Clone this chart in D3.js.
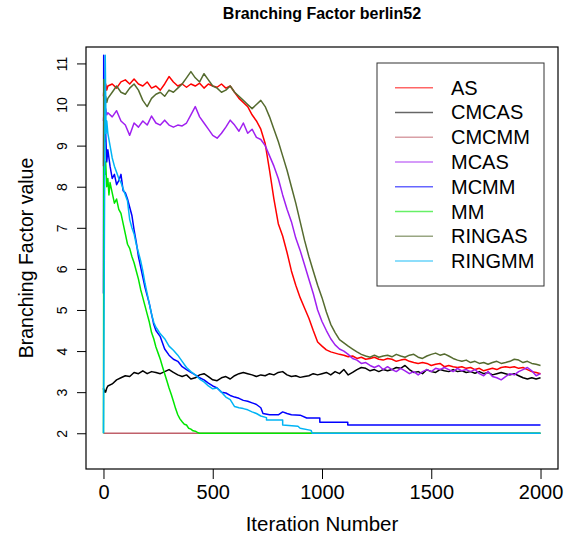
<!DOCTYPE html>
<html>
<head>
<meta charset="utf-8">
<script src="https://d3js.org/d3.v7.min.js"></script>
<style>
  body { margin: 0; background: #fff; }
  text { font-family: "Liberation Sans", Arial, sans-serif; fill: #000; }
</style>
</head>
<body>
<div id="chart"></div>
<script>
    // series names and colours (legend order = drawing order)
    var seriesNames = ["AS", "CMCAS", "CMCMM", "MCAS", "MCMM", "MM", "RINGAS", "RINGMM"];
    var seriesColors = ["#ff0000", "#000000", "#c0606a", "#a020f0", "#0000ff", "#00e600", "#556b2f", "#00b4f5"];

    // shared iteration grid for the noisy AS-type runs
    var gridIters = [0, 2, 5, 10, 15].concat(d3.range(20, 2001, 20));

    var asValues = [10.2, 10.4, 10.3, 10.5, 10.35,
      10.45, 10.5, 10.4, 10.55, 10.6, 10.5, 10.62, 10.5, 10.45, 10.55,
      10.4, 10.45, 10.35, 10.5, 10.68, 10.55, 10.45, 10.5, 10.42, 10.5,
      10.45, 10.52, 10.4, 10.5, 10.45, 10.42, 10.5, 10.4, 10.45, 10.3,
      10.15, 10.05, 9.95, 9.75, 9.6, 9.4, 9.05, 8.4, 7.7, 7.1,
      6.8, 6.4, 5.95, 5.6, 5.3, 5.05, 4.8, 4.5, 4.22, 4.12,
      4.03, 3.98, 3.95, 3.92, 3.9, 3.86, 3.88, 3.82, 3.85, 3.8,
      3.82, 3.85, 3.8, 3.78, 3.82, 3.8, 3.75, 3.78, 3.8, 3.75,
      3.72, 3.7, 3.72, 3.7, 3.65, 3.68, 3.7, 3.62, 3.65, 3.62,
      3.6, 3.62, 3.58, 3.6, 3.55, 3.58, 3.52, 3.55, 3.58, 3.55,
      3.6, 3.62, 3.6, 3.62, 3.58, 3.6, 3.55, 3.5, 3.48, 3.45];

    var cmcasValues = [3.1, 3.0, 3.05, 3.0, 3.1,
      3.15, 3.2, 3.3, 3.35, 3.4, 3.38, 3.48, 3.45, 3.52, 3.45,
      3.5, 3.48, 3.45, 3.5, 3.55, 3.48, 3.42, 3.38, 3.42, 3.32,
      3.35, 3.42, 3.45, 3.38, 3.3, 3.28, 3.35, 3.38, 3.32, 3.4,
      3.45, 3.48, 3.45, 3.42, 3.38, 3.42, 3.4, 3.45, 3.42, 3.48,
      3.5, 3.42, 3.38, 3.4, 3.36, 3.38, 3.4, 3.45, 3.42, 3.45,
      3.48, 3.42, 3.5, 3.45, 3.55, 3.42, 3.48, 3.55, 3.6, 3.58,
      3.52, 3.55, 3.5, 3.55, 3.52, 3.55, 3.6, 3.58, 3.65, 3.55,
      3.48, 3.5, 3.45, 3.55, 3.5, 3.48, 3.55, 3.52, 3.5, 3.55,
      3.5, 3.52, 3.48, 3.5, 3.46, 3.5, 3.45, 3.48, 3.42, 3.45,
      3.48, 3.45, 3.42, 3.45, 3.4, 3.35, 3.32, 3.35, 3.32, 3.35];

    var mcasValues = [9.6, 9.8, 9.7, 9.9, 9.75,
      9.8, 9.7, 9.85, 9.6, 9.5, 9.25, 9.55, 9.45, 9.6, 9.5,
      9.72, 9.55, 9.5, 9.62, 9.5, 9.45, 9.5, 9.48, 9.55, 9.75,
      9.95, 9.7, 9.55, 9.4, 9.25, 9.18, 9.3, 9.45, 9.62, 9.5,
      9.35, 9.55, 9.3, 9.4, 9.2, 9.15, 9.0, 8.75, 8.5, 8.2,
      7.8, 7.45, 7.15, 6.75, 6.45, 6.1, 5.75, 5.4, 5.0, 4.72,
      4.5, 4.3, 4.15, 4.05, 4.0, 3.92, 3.82, 3.78, 3.7, 3.72,
      3.65, 3.6, 3.65, 3.55, 3.62, 3.55, 3.5, 3.58, 3.52, 3.45,
      3.5, 3.42, 3.5, 3.55, 3.5, 3.58, 3.55, 3.6, 3.55, 3.5,
      3.58, 3.52, 3.55, 3.5, 3.55, 3.45, 3.4, 3.5, 3.38, 3.35,
      3.3, 3.38, 3.45, 3.42, 3.5, 3.55, 3.6, 3.52, 3.4, 3.45];

    var ringasValues = [8.5, 10.6, 10.0, 10.2, 10.05,
      10.15, 10.3, 10.45, 10.3, 10.25, 10.4, 10.5, 10.35, 10.1, 9.95,
      10.15, 10.25, 10.3, 10.2, 10.35, 10.3, 10.4, 10.5, 10.65, 10.8,
      10.65, 10.55, 10.75, 10.6, 10.45, 10.4, 10.3, 10.35, 10.45, 10.3,
      10.2, 10.1, 10.0, 9.9, 10.0, 10.1, 9.95, 9.7, 9.4, 9.1,
      8.75, 8.4, 8.0, 7.6, 7.15, 6.7, 6.3, 5.95, 5.6, 5.3,
      4.95, 4.65, 4.45, 4.28, 4.2, 4.12, 4.05, 3.98, 3.92, 3.88,
      3.85, 3.9, 3.85, 3.88, 3.9, 3.86, 3.92, 3.88, 3.85, 3.9,
      3.92, 3.85, 3.82, 3.88, 3.92, 3.95, 3.9, 3.93, 3.88, 3.82,
      3.78, 3.75, 3.78, 3.72, 3.75, 3.7, 3.72, 3.68, 3.72, 3.75,
      3.7, 3.72, 3.75, 3.8, 3.78, 3.72, 3.75, 3.7, 3.68, 3.65];

    // CMCMM stays at 2 the whole run
    var cmcmmIters = [0, 2000];
    var cmcmmValues = [2, 2];

    var mcmmIters = [0, 1, 3, 6, 10, 15, 20, 30, 40, 50, 60, 70, 80, 90, 100,
      110, 120, 130, 140, 150, 160, 170, 180, 190, 200, 210, 220, 230, 240,
      260, 280, 300, 320, 340, 360, 380, 400, 420, 440, 460, 480, 500, 520,
      540, 560, 580, 600, 620, 640, 660, 680, 700, 720, 730, 760, 800, 820,
      840, 860, 900, 930, 990, 990, 1118, 1118, 2000];
    var mcmmValues = [5.4, 11.2, 10.0, 9.1, 9.3, 8.6, 8.9, 8.5, 8.2, 8.3, 8.05, 8.15, 8.3, 7.9, 7.85,
      7.7, 7.5, 7.3, 6.95, 6.65, 6.3, 6.05, 5.8, 5.55, 5.35, 5.15, 4.9, 4.65, 4.5,
      4.35, 4.05, 3.9, 3.8, 3.75, 3.62, 3.55, 3.48, 3.42, 3.35, 3.3, 3.22, 3.15, 3.1,
      3.0, 2.98, 2.92, 2.88, 2.85, 2.8, 2.78, 2.74, 2.7, 2.62, 2.48, 2.45, 2.45, 2.52,
      2.48, 2.45, 2.44, 2.37, 2.37, 2.27, 2.27, 2.2, 2.2];

    var mmIters = [0, 2, 4, 6, 10, 15, 20, 25, 30, 40, 50, 60, 70, 80, 90, 100,
      110, 120, 130, 140, 150, 160, 170, 180, 190, 200, 210, 220, 230, 240, 250,
      260, 270, 280, 290, 300, 310, 320, 330, 340, 350, 360, 370, 380, 390, 400,
      410, 420, 430, 440, 2000];
    var mmValues = [2.0, 10.6, 9.5, 8.3, 8.6, 8.0, 8.2, 7.8, 8.1, 7.85, 7.6, 7.7, 7.45, 7.35, 7.1, 6.85,
      6.6, 6.5, 6.3, 6.15, 5.95, 5.75, 5.5, 5.3, 5.1, 4.9, 4.7, 4.45, 4.3, 4.1, 3.95,
      3.8, 3.62, 3.45, 3.28, 3.1, 2.95, 2.78, 2.6, 2.45, 2.35, 2.28, 2.22, 2.2, 2.12, 2.1,
      2.06, 2.05, 2.02, 2.0, 2.0];

    var ringmmIters = [0, 8, 10, 12, 15, 20, 30, 40, 50, 60, 70, 80, 90, 100,
      110, 120, 130, 140, 150, 160, 170, 180, 190, 200, 210, 220, 230, 240, 250,
      260, 280, 300, 320, 340, 360, 380, 400, 420, 440, 460, 480, 500, 520, 540,
      560, 580, 600, 620, 640, 660, 680, 700, 720, 746, 746, 820, 820, 890, 900,
      950, 955, 2000];
    var ringmmValues = [2.0, 11.2, 10.2, 9.3, 9.6, 9.3, 9.0, 8.7, 8.5, 8.35, 8.2, 8.1, 7.95, 7.8,
      7.65, 7.2, 7.0, 6.85, 6.6, 6.4, 6.2, 5.95, 5.65, 5.4, 5.15, 4.9, 4.7, 4.58, 4.5,
      4.42, 4.3, 4.12, 4.02, 3.9, 3.75, 3.6, 3.5, 3.42, 3.32, 3.25, 3.15, 3.08, 3.1, 3.0,
      2.88, 2.82, 2.65, 2.62, 2.6, 2.57, 2.52, 2.48, 2.42, 2.38, 2.32, 2.32, 2.2, 2.17, 2.12,
      2.07, 2.0, 2.0];

    var xTicks = [0, 500, 1000, 1500, 2000];
    var yTicks = [2, 3, 4, 5, 6, 7, 8, 9, 10, 11];

    var seriesIters = [gridIters, gridIters, cmcmmIters, gridIters, mcmmIters, mmIters, gridIters, ringmmIters];
    var seriesValues = [asValues, cmcasValues, cmcmmValues, mcasValues, mcmmValues, mmValues, ringasValues, ringmmValues];

    // plot region
    var W = 570, H = 536;
    var pLeft = 86, pRight = 558, pTop = 47, pBottom = 469;

    var svg = d3.select("#chart")
      .append("svg")
      .attr("width", W)
      .attr("height", H)
      .style("display", "block");

    var x = d3.scaleLinear().domain([-80, 2080]).range([pLeft, pRight]);
    var y = d3.scaleLinear().domain([1.13, 11.4]).range([pBottom, pTop]);

    // title
    svg.append("text")
      .attr("x", (pLeft + pRight) / 2)
      .attr("y", 19)
      .attr("text-anchor", "middle")
      .attr("font-size", 16)
      .attr("font-weight", "bold")
      .text("Branching Factor berlin52");

    // lines
    var line = d3.line()
      .x(function (d) { return x(d[0]); })
      .y(function (d) { return y(d[1]); });

    seriesNames.forEach(function (name, i) {
      var pts = seriesIters[i].map(function (it, k) { return [it, seriesValues[i][k]]; });
      svg.append("path")
        .datum(pts)
        .attr("fill", "none")
        .attr("stroke", seriesColors[i])
        .attr("stroke-width", 1.5)
        .attr("stroke-linejoin", "round")
        .attr("d", line);
    });

    // X axis
    var xAxis = svg.append("g")
      .attr("transform", "translate(0," + pBottom + ")")
      .call(d3.axisBottom(x).tickValues(xTicks).tickSize(10).tickFormat(d3.format("d")));
    xAxis.select(".domain").remove();
    xAxis.selectAll("line").attr("stroke", "#000");
    xAxis.selectAll("text")
      .attr("y", 30)
      .attr("dy", 0)
      .attr("font-size", 20)
      .attr("font-family", "Liberation Sans, Arial, sans-serif");

    // Y axis
    var yAxis = svg.append("g")
      .attr("transform", "translate(" + pLeft + ",0)")
      .call(d3.axisLeft(y).tickValues(yTicks).tickSize(9));
    yAxis.select(".domain").remove();
    yAxis.selectAll("line").attr("stroke", "#000");
    yAxis.selectAll("text")
      .attr("x", 0)
      .attr("y", -19)
      .attr("dy", 0)
      .attr("transform", "rotate(-90)")
      .attr("text-anchor", "middle")
      .attr("font-size", 14)
      .attr("font-family", "Liberation Sans, Arial, sans-serif");

    // frame
    svg.append("rect")
      .attr("x", pLeft)
      .attr("y", pTop)
      .attr("width", pRight - pLeft)
      .attr("height", pBottom - pTop)
      .attr("fill", "none")
      .attr("stroke", "#000")
      .attr("stroke-width", 1.2);

    // axis titles
    svg.append("text")
      .attr("x", (pLeft + pRight) / 2)
      .attr("y", 531)
      .attr("text-anchor", "middle")
      .attr("font-size", 20.5)
      .text("Iteration Number");

    svg.append("text")
      .attr("transform", "translate(33," + (pTop + pBottom) / 2 + ")rotate(-90)")
      .attr("text-anchor", "middle")
      .attr("font-size", 19.5)
      .text("Branching Factor value");

    // legend
    var legend = svg.append("g");
    legend.append("rect")
      .attr("x", 377)
      .attr("y", 63)
      .attr("width", 167)
      .attr("height", 223)
      .attr("fill", "#fff")
      .attr("stroke", "#333")
      .attr("stroke-width", 1);

    seriesNames.forEach(function (name, i) {
      var ly = 87.7 + i * 24.76;
      legend.append("line")
        .attr("x1", 395)
        .attr("x2", 433)
        .attr("y1", ly)
        .attr("y2", ly)
        .attr("stroke", seriesColors[i])
        .attr("stroke-opacity", 0.6)
        .attr("stroke-width", 1.6);
      legend.append("text")
        .attr("x", 451)
        .attr("y", ly + 7)
        .attr("font-size", 20)
        .text(name);
    });

</script>
</body>
</html>
